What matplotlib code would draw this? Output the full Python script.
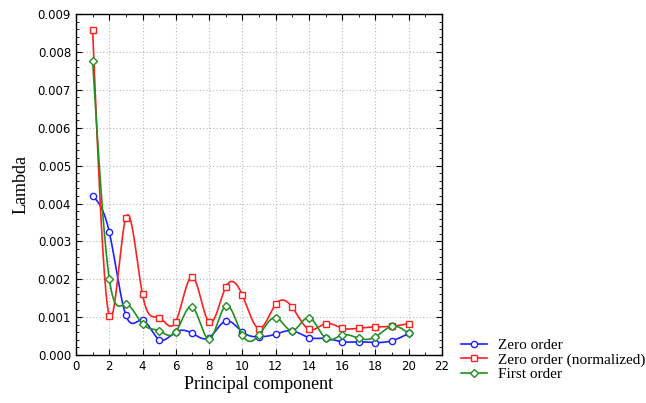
import numpy as np
import matplotlib
matplotlib.use("Agg")
import matplotlib.pyplot as plt
from matplotlib.ticker import MultipleLocator, AutoMinorLocator

# --- data ---
components = list(range(1, 21))
zero_order = [0.00420, 0.00325, 0.00105, 0.00092, 0.00041, 0.00061, 0.00057, 0.00046, 0.00090, 0.00061,
              0.00048, 0.00055, 0.00064, 0.00046, 0.00044, 0.00035, 0.00035, 0.00033, 0.00038, 0.00057]
zero_order_norm = [0.00858, 0.00104, 0.00363, 0.00160, 0.00099, 0.00088, 0.00207, 0.00086, 0.00179, 0.00158,
                   0.00070, 0.00134, 0.00126, 0.00068, 0.00083, 0.00071, 0.00071, 0.00074, 0.00076, 0.00083]
first_order = [0.00777, 0.00202, 0.00134, 0.00082, 0.00064, 0.00061, 0.00127, 0.00042, 0.00130, 0.00053,
               0.00053, 0.00099, 0.00064, 0.00099, 0.00044, 0.00053, 0.00044, 0.00048, 0.00076, 0.00057]


def natural_spline(x, y, n=400):
    # plain natural cubic spline, solved with numpy
    x = np.asarray(x, float)
    y = np.asarray(y, float)
    k = len(x)
    h = np.diff(x)
    A = np.zeros((k, k))
    b = np.zeros(k)
    A[0, 0] = A[-1, -1] = 1
    for i in range(1, k - 1):
        A[i, i - 1] = h[i - 1]
        A[i, i] = 2 * (h[i - 1] + h[i])
        A[i, i + 1] = h[i]
        b[i] = 3 * ((y[i + 1] - y[i]) / h[i] - (y[i] - y[i - 1]) / h[i - 1])
    c = np.linalg.solve(A, b)
    xs = np.linspace(x[0], x[-1], n)
    idx = np.clip(np.searchsorted(x, xs) - 1, 0, k - 2)
    dx = xs - x[idx]
    bb = (y[idx + 1] - y[idx]) / h[idx] - h[idx] * (2 * c[idx] + c[idx + 1]) / 3
    d = (c[idx + 1] - c[idx]) / (3 * h[idx])
    ys = y[idx] + bb * dx + c[idx] * dx ** 2 + d * dx ** 3
    return xs, ys


series = [
    ("Zero order", zero_order, "#2020ff", "o"),
    ("Zero order (normalized)", zero_order_norm, "#ff2020", "s"),
    ("First order", first_order, "#209020", "D"),
]

serif = ["Liberation Serif", "DejaVu Serif"]

fig = plt.figure(figsize=(6.46, 4.03), dpi=100)
ax = fig.add_axes([0.1176, 0.119, 0.5666, 0.846])

for label, vals, col, mk in series:
    xs, ys = natural_spline(components, vals)
    ax.plot(xs, ys, color=col, lw=1.2)
    ax.plot(components, vals, linestyle="none", marker=mk, markersize=4.5 if mk != "D" else 4.2,
            markerfacecolor="white", markeredgecolor=col, markeredgewidth=1.0)
    ax.plot([], [], color=col, lw=1.2, marker=mk, markersize=4.5, markerfacecolor="white",
            markeredgecolor=col, label=label)

ax.set_xlim(0, 22)
ax.set_ylim(0, 0.009)
ax.xaxis.set_major_locator(MultipleLocator(2))
ax.xaxis.set_minor_locator(MultipleLocator(1))
ax.yaxis.set_major_locator(MultipleLocator(0.001))
ax.yaxis.set_minor_locator(AutoMinorLocator(5))
ax.yaxis.set_major_formatter(matplotlib.ticker.FormatStrFormatter("%.3f"))
ax.tick_params(which="both", direction="in", top=True, right=True, labelsize=8.5, colors="black")
ax.tick_params(which="major", length=4)
ax.tick_params(which="minor", length=2)
ax.grid(True, which="major", linestyle=(0, (1, 2)), color="#b8b8b8", lw=0.8)
for s in ax.spines.values():
    s.set_linewidth(1.0)

ax.set_xlabel("Principal component", fontsize=13, family=serif, labelpad=2)
ax.set_ylabel("Lambda", fontsize=13, family=serif, labelpad=6)

fig.legend(loc="lower left", bbox_to_anchor=(0.702, 0.035), frameon=False,
           prop={"family": serif, "size": 11}, handlelength=1.7, labelspacing=0.05,
           borderpad=0, handletextpad=0.7)

fig.savefig("out.png", dpi=100)
